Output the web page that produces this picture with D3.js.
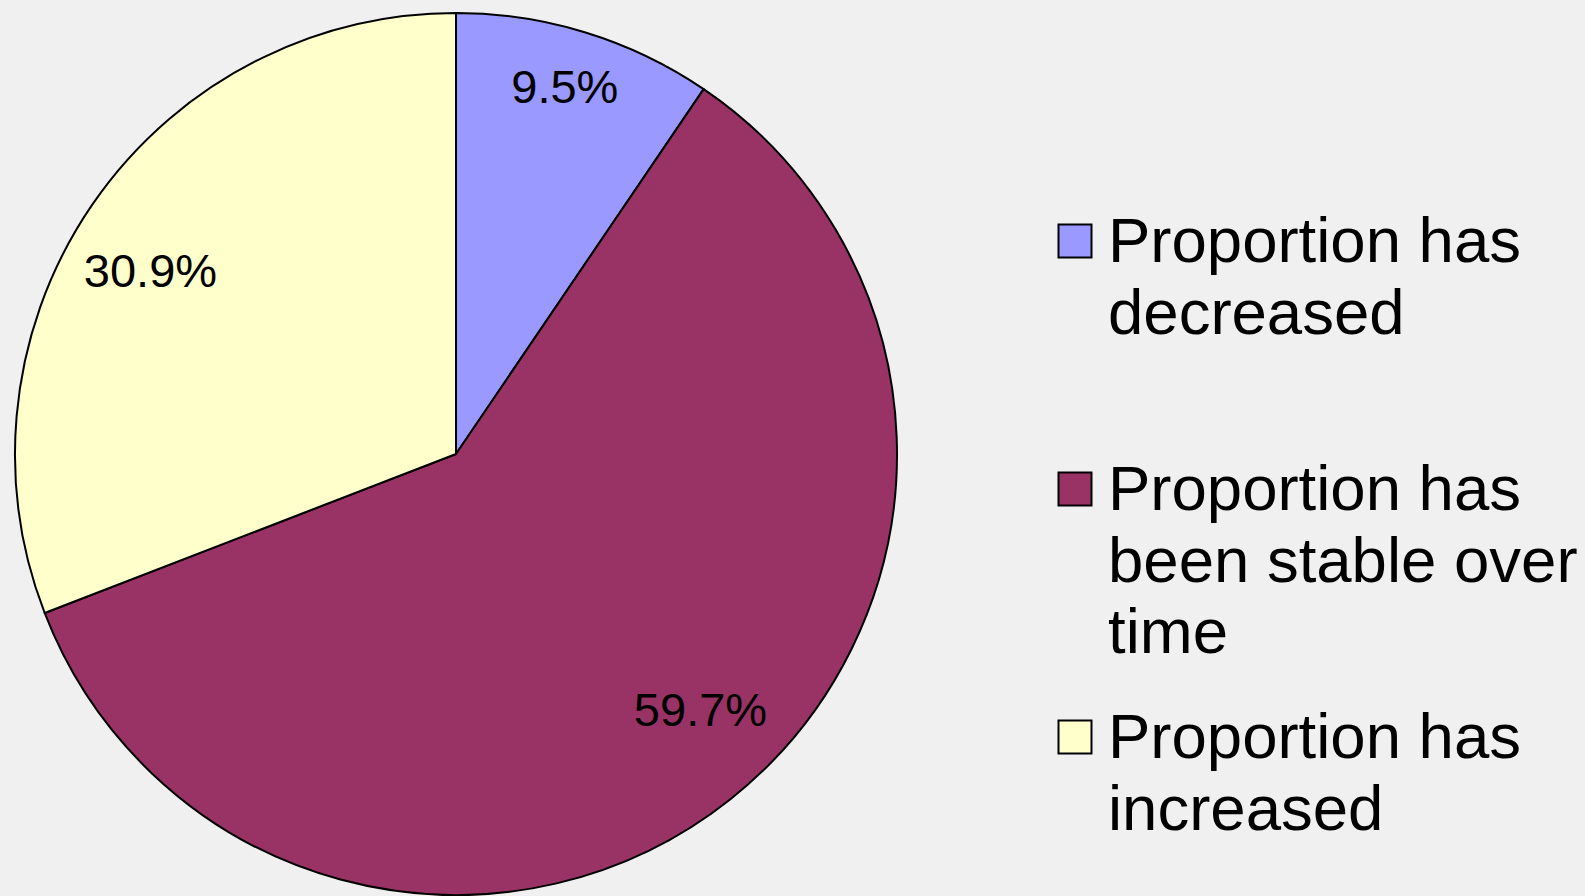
<!DOCTYPE html>
<html>
<head>
<meta charset="utf-8">
<script src="https://cdn.jsdelivr.net/npm/d3@7"></script>
<style>
    html, body { margin: 0; padding: 0; background: #f0f0f0; }
    #chart { width: 1585px; height: 896px; }
    text { font-family: Arial, "Liberation Sans", Helvetica, sans-serif; fill: #000; }
</style>
</head>
<body>
<div id="chart"></div>
<script>
// data
var categories = ["Proportion has decreased", "Proportion has been stable over time", "Proportion has increased"];
var legendLines = [
    ["Proportion has", "decreased"],
    ["Proportion has", "been stable over", "time"],
    ["Proportion has", "increased"]
];
var values = [9.5, 59.7, 30.9];
var colors = ["#9999ff", "#993366", "#ffffcc"];

var dom = document.getElementById("chart");
var width = dom.getBoundingClientRect().width;
var height = dom.getBoundingClientRect().height;

var svg = d3.select("#chart").append("svg")
    .attr("width", width)
    .attr("height", height);

var cx = 456, cy = 454, radius = 441;

var pie = d3.pie().sort(null).value(function (d) { return d; });
var arcs = pie(values);

var arc = d3.arc().innerRadius(0).outerRadius(radius);
var labelArc = d3.arc().innerRadius(radius * 0.84).outerRadius(radius * 0.84);

// excel "best fit" pushes labels a bit off the plain centroid
var labelShift = [[0, -13], [14, -34], [0, 26]];

var gPie = svg.append("g")
    .attr("transform", "translate(" + cx + "," + cy + ")");

gPie.selectAll("path")
    .data(arcs)
    .enter().append("path")
    .attr("d", arc)
    .style("fill", function (d, i) { return colors[i]; })
    .style("stroke", "#000")
    .style("stroke-width", 2)
    .style("stroke-linejoin", "round");

gPie.selectAll(".pct")
    .data(arcs)
    .enter().append("text")
    .attr("class", "pct")
    .attr("transform", function (d, i) {
        var c = labelArc.centroid(d);
        return "translate(" + (c[0] + labelShift[i][0]) + "," + (c[1] + labelShift[i][1]) + ")";
    })
    .attr("dy", "0.35em")
    .style("text-anchor", "middle")
    .style("font-size", "47px")
    .text(function (d) { return d.data.toFixed(1) + "%"; });

// legend
var ly = d3.scalePoint().domain(categories).range([224, 720]);
var legend = svg.append("g")
    .attr("transform", "translate(1058,0)");

var items = legend.selectAll("g")
    .data(categories)
    .enter().append("g")
    .attr("transform", function (d) { return "translate(0," + ly(d) + ")"; });

items.append("rect")
    .attr("x", 0.5)
    .attr("y", 0.5)
    .attr("width", 33)
    .attr("height", 33)
    .style("fill", function (d, i) { return colors[i]; })
    .style("stroke", "#000")
    .style("stroke-width", 2);

items.append("text")
    .attr("x", 50)
    .attr("y", 38)
    .style("font-size", "63.5px")
    .selectAll("tspan")
    .data(function (d, i) { return legendLines[i]; })
    .enter().append("tspan")
    .attr("x", 50)
    .attr("dy", function (d, j) { return j === 0 ? 0 : 71.5; })
    .text(function (d) { return d; });
</script>
</body>
</html>
